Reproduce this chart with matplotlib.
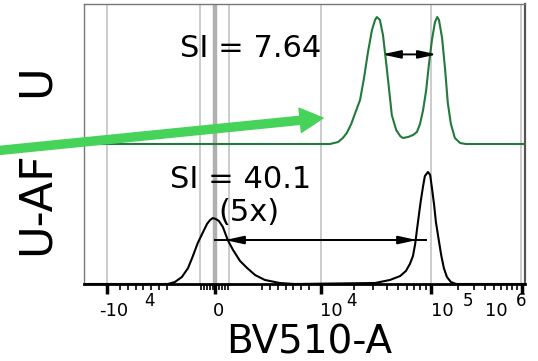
import matplotlib
matplotlib.use('Agg')
import matplotlib.pyplot as plt
from matplotlib.patches import FancyArrowPatch

# Histograms on a 0-1000 display channel scale, y in % of max
# top one (U) is drawn with an offset of 100
u_x = [0, 558, 576, 587, 596, 606, 615, 626, 635, 644, 653, 660, 664, 671, 678,
       685, 692, 698, 708, 717, 723, 735, 746, 755, 762, 769, 776, 782, 789, 796,
       801, 805, 812, 819, 825, 832, 841, 853, 866, 1000]
u_y = [0, 0, 1.4, 4.3, 7.9, 14.3, 22.1, 31.4, 47.1, 65.7, 81.4, 88.6, 90.7, 88.6,
       77.9, 58.6, 38.6, 20.7, 10.0, 5.7, 4.3, 5.0, 6.4, 8.6, 14.3, 24.3, 38.6,
       56.4, 74.3, 87.1, 90.7, 88.6, 75.7, 52.9, 29.3, 14.3, 4.3, 0.7, 0, 0]
u_offset = 100

uaf_x = [0, 190, 206, 222, 236, 247, 258, 270, 279, 286, 292, 299, 306, 315, 326,
         338, 354, 370, 388, 410, 444, 478, 660, 694, 717, 730, 739, 746, 751, 755,
         760, 764, 769, 773, 780, 785, 789, 794, 798, 803, 810, 816, 823, 832, 844, 1000]
uaf_y = [0, 0, 1.4, 5.0, 11.4, 20.0, 29.3, 37.1, 42.9, 45.7, 47.1, 46.4, 45.0, 40.7,
         31.4, 24.3, 16.4, 11.4, 6.4, 2.9, 0.7, 0, 0.7, 2.9, 5.7, 9.3, 14.3, 20.0,
         28.6, 38.6, 50.7, 60.0, 70.0, 77.1, 80.0, 77.9, 68.6, 56.4, 44.3, 34.3,
         20.7, 11.4, 5.0, 1.4, 0, 0]

# separation arrows: (left, right, height)
u_si = (676, 800, 164)
uaf_si = (320, 755, 31.4)
uaf_si_line = (297, 776)

# axis decorations
grid_pos = [52, 263, 329, 537, 787, 991]
zero_pos = 297
major_pos = [52, 297, 537, 787, 993]
minor_pos = [82, 100, 118, 134, 152, 170, 188,
             265, 272, 279, 286, 293, 306, 313, 320, 327,
             404, 422, 440, 458, 474, 492, 510,
             612, 655, 687, 712, 732, 748, 762, 776,
             848, 884, 909, 930, 946, 959, 971, 982]
tick_labels = [(67, '-10', 149, '4'), (306, '0', None, None),
               (561, '10', 606, '4'), (813, '10', 870, '5'), (934, '10', 991, '6')]

fig = plt.figure(figsize=(5.38, 3.61), dpi=100)
ax = fig.add_axes([0.1561, 0.2133, 0.8197, 0.7756])

for g in grid_pos:
    ax.axvline(g, color='#c4c4c4', lw=1.2, zorder=1)
ax.axvline(zero_pos, color='#b0b0b0', lw=3.2, zorder=1)

ax.plot(u_x, [v + u_offset for v in u_y], color='#217a3c', lw=1.5, zorder=3)
ax.plot(uaf_x, uaf_y, color='black', lw=1.5, zorder=3)

arrow_kw = dict(arrowstyle='<|-|>,head_length=0.55,head_width=0.12',
                color='black', lw=1.4, shrinkA=0, shrinkB=0, mutation_scale=20)
ax.annotate('', xy=(u_si[1], u_si[2]), xytext=(u_si[0], u_si[2]),
            arrowprops=arrow_kw, zorder=4)
ax.plot(uaf_si_line, [uaf_si[2]] * 2, color='black', lw=1.4, zorder=4)
ax.annotate('', xy=(uaf_si[1], uaf_si[2]), xytext=(uaf_si[0], uaf_si[2]),
            arrowprops=arrow_kw, zorder=4)

ax.text(379, 168, 'SI = 7.64', fontsize=22, ha='center', va='center')
ax.text(355, 75, 'SI = 40.1', fontsize=22, ha='center', va='center')
ax.text(375, 51, '(5x)', fontsize=22, ha='center', va='center')

ax.set_xlim(0, 1000)
ax.set_ylim(0, 200)
ax.set_yticks([])
ax.set_xticks(major_pos, [''] * len(major_pos))
ax.set_xticks(minor_pos, minor=True)
ax.tick_params(axis='x', which='major', length=7, width=2.5, color='black')
ax.tick_params(axis='x', which='minor', length=4, width=1.2, color='black')

for side in ['top', 'left']:
    ax.spines[side].set_color('#777777')
    ax.spines[side].set_linewidth(1)
ax.spines['right'].set_color('#555555')
ax.spines['right'].set_linewidth(1.6)
ax.spines['bottom'].set_color('black')
ax.spines['bottom'].set_linewidth(2)

trans = ax.get_xaxis_transform()
for bx, base, ex, exp in tick_labels:
    ax.text(bx, -0.096, base, fontsize=13, ha='center', va='center', transform=trans)
    if exp:
        ax.text(ex, -0.062, exp, fontsize=12, ha='center', va='center', transform=trans)

ax.text(510, -0.209, 'BV510-A', fontsize=28, ha='center', va='center', transform=trans)

fig.text(0.067, 0.7756, 'U', fontsize=32, rotation=90, ha='center', va='center')
fig.text(0.067, 0.4377, 'U-AF', fontsize=32, rotation=90, ha='center', va='center')

big = FancyArrowPatch((-0.01, 0.582), (0.6004, 0.6731), transform=fig.transFigure,
                      arrowstyle='simple,head_length=16.5,head_width=17.5,tail_width=5.8',
                      mutation_scale=1, color='#46d35a', shrinkA=0, shrinkB=0, zorder=10)
fig.add_artist(big)

fig.savefig('out.png', dpi=100)
